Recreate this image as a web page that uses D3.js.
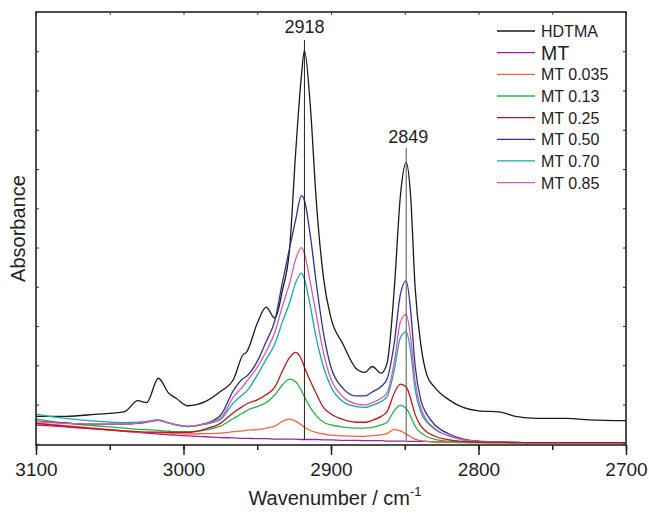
<!DOCTYPE html>
<html>
<head>
<meta charset="utf-8">
<script src="https://cdn.jsdelivr.net/npm/d3@7"></script>
<style>
  body { margin: 0; background: #fff; }
  svg { display: block; font-family: Arial, "Liberation Sans", sans-serif; }
</style>
</head>
<body>
<div id="chart"></div>
<script>
// wavenumber grid (cm-1) shared by every spectrum
const wavenumbers = [3100, 3080, 3060, 3040, 3031, 3025, 3017, 3010, 3005, 2997,
  2985, 2975, 2966, 2960, 2957, 2950, 2944, 2938, 2933, 2928,
  2924, 2920, 2918, 2914, 2910, 2905, 2900, 2892, 2883, 2877,
  2872, 2866, 2862, 2857, 2853, 2849, 2846, 2843, 2839, 2835,
  2830, 2820, 2810, 2800, 2785, 2775, 2760, 2740, 2725, 2700];

const hdtma = [0.70, 0.70, 0.75, 0.82, 1.10, 1.05, 1.67, 1.29, 1.16, 0.97,
  1.08, 1.33, 1.65, 2.25, 2.35, 3.07, 3.48, 3.20, 3.90, 5.00,
  7.40, 9.40, 10.02, 8.60, 6.20, 4.20, 3.20, 2.55, 1.92, 1.82,
  1.97, 1.80, 2.05, 4.00, 6.30, 7.16, 6.30, 4.00, 2.50, 1.75,
  1.45, 1.12, 0.92, 0.84, 0.81, 0.70, 0.65, 0.65, 0.61, 0.59];

const mt = [0.48, 0.43, 0.38, 0.32, 0.29, 0.27, 0.25, 0.23, 0.22, 0.20,
  0.18, 0.16, 0.15, 0.14, 0.14, 0.13, 0.13, 0.12, 0.12, 0.12,
  0.12, 0.11, 0.11, 0.11, 0.11, 0.10, 0.10, 0.09, 0.09, 0.08,
  0.08, 0.08, 0.07, 0.07, 0.07, 0.07, 0.06, 0.06, 0.06, 0.06,
  0.05, 0.05, 0.04, 0.04, 0.04, 0.03, 0.03, 0.03, 0.03, 0.03];

const mt035 = [0.53, 0.46, 0.40, 0.33, 0.30, 0.29, 0.28, 0.27, 0.26, 0.25,
  0.26, 0.27, 0.31, 0.33, 0.35, 0.36, 0.40, 0.45, 0.57, 0.63,
  0.58, 0.48, 0.42, 0.34, 0.29, 0.25, 0.22, 0.20, 0.19, 0.19,
  0.21, 0.23, 0.26, 0.37, 0.33, 0.25, 0.18, 0.12, 0.08, 0.06,
  0.05, 0.04, 0.03, 0.03, 0.03, 0.03, 0.03, 0.03, 0.03, 0.03];

const mt13 = [0.63, 0.53, 0.46, 0.40, 0.37, 0.36, 0.34, 0.32, 0.31, 0.31,
  0.35, 0.45, 0.65, 0.78, 0.85, 0.95, 1.05, 1.25, 1.50, 1.65,
  1.58, 1.35, 1.20, 0.92, 0.72, 0.55, 0.48, 0.43, 0.40, 0.40,
  0.42, 0.48, 0.55, 0.85, 0.98, 0.90, 0.70, 0.45, 0.28, 0.18,
  0.12, 0.06, 0.04, 0.03, 0.03, 0.03, 0.03, 0.03, 0.03, 0.03];

const mt25 = [0.52, 0.45, 0.38, 0.33, 0.31, 0.30, 0.30, 0.29, 0.29, 0.29,
  0.38, 0.52, 0.80, 0.95, 1.02, 1.12, 1.25, 1.45, 1.85, 2.20,
  2.33, 2.15, 1.95, 1.60, 1.28, 0.92, 0.76, 0.62, 0.55, 0.55,
  0.60, 0.70, 0.82, 1.30, 1.52, 1.45, 1.15, 0.75, 0.45, 0.30,
  0.20, 0.10, 0.06, 0.04, 0.03, 0.03, 0.03, 0.03, 0.03, 0.03];

const mt50 = [0.58, 0.53, 0.50, 0.50, 0.52, 0.55, 0.60, 0.53, 0.48, 0.44,
  0.52, 0.72, 1.37, 1.65, 1.73, 2.10, 2.60, 3.15, 4.10, 5.00,
  5.70, 6.32, 6.20, 5.30, 4.10, 2.80, 1.95, 1.42, 1.22, 1.22,
  1.32, 1.46, 1.65, 2.60, 3.80, 4.15, 3.40, 2.00, 1.10, 0.75,
  0.50, 0.25, 0.12, 0.07, 0.05, 0.04, 0.03, 0.03, 0.03, 0.03];

const mt70 = [0.75, 0.65, 0.58, 0.54, 0.55, 0.57, 0.61, 0.54, 0.49, 0.44,
  0.50, 0.62, 1.05, 1.25, 1.35, 1.75, 2.15, 2.55, 3.10, 3.60,
  4.10, 4.35, 4.20, 3.50, 2.70, 1.95, 1.45, 1.08, 0.95, 0.93,
  0.98, 1.08, 1.20, 1.90, 2.70, 2.85, 2.35, 1.40, 0.80, 0.55,
  0.38, 0.20, 0.10, 0.06, 0.04, 0.03, 0.03, 0.03, 0.03, 0.03];

const mt85 = [0.57, 0.52, 0.50, 0.50, 0.53, 0.56, 0.60, 0.53, 0.48, 0.45,
  0.52, 0.65, 1.20, 1.45, 1.60, 1.95, 2.35, 2.85, 3.50, 4.10,
  4.70, 5.00, 4.85, 4.10, 3.30, 2.30, 1.65, 1.20, 1.02, 0.99,
  1.05, 1.16, 1.30, 2.10, 3.10, 3.30, 2.70, 1.60, 0.90, 0.60,
  0.40, 0.20, 0.10, 0.06, 0.04, 0.03, 0.03, 0.03, 0.03, 0.03];

const seriesNames = ["HDTMA", "MT", "MT 0.035", "MT 0.13", "MT 0.25", "MT 0.50", "MT 0.70", "MT 0.85"];
const seriesValues = [hdtma, mt, mt035, mt13, mt25, mt50, mt70, mt85];
const seriesColors = ["#1a1a1a", "#a0219c", "#f4643a", "#25b34b", "#c1141d", "#2e3393", "#12aaa6", "#d85aae"];

const xTicks = [3100, 3000, 2900, 2800, 2700];
const peakLabels = [2918, 2849];

const width = 649;
const height = 513;
const m = { left: 36, right: 626, top: 12, bottom: 445 };

const svg = d3.select("#chart")
  .append("svg")
  .attr("width", width)
  .attr("height", height);

const x = d3.scaleLinear().domain([3100, 2700]).range([m.left, m.right]);
const y = d3.scaleLinear().domain([-0.03, 11]).range([m.bottom, m.top]);

const line = d3.line()
  .x((d, i) => x(wavenumbers[i]))
  .y(d => y(d))
  .curve(d3.curveMonotoneX);

// spectra
const drawOrder = [0, 1, 2, 3, 5, 6, 7, 4];
svg.append("g")
  .attr("fill", "none")
  .attr("stroke-width", 1.3)
  .selectAll("path")
  .data(drawOrder)
  .join("path")
  .attr("stroke", i => seriesColors[i])
  .attr("d", i => line(seriesValues[i]));

// peak marker lines
svg.append("line")
  .attr("x1", x(peakLabels[0])).attr("x2", x(peakLabels[0]))
  .attr("y1", 40).attr("y2", 440)
  .attr("stroke", "#222").attr("stroke-width", 1);
svg.append("line")
  .attr("x1", x(peakLabels[1])).attr("x2", x(peakLabels[1]))
  .attr("y1", 148).attr("y2", 440)
  .attr("stroke", "#555").attr("stroke-width", 1);

svg.append("text")
  .attr("x", x(peakLabels[0])).attr("y", 33)
  .attr("text-anchor", "middle")
  .attr("font-size", 18).attr("fill", "#222")
  .text(peakLabels[0]);
svg.append("text")
  .attr("x", x(peakLabels[1]) + 2).attr("y", 143)
  .attr("text-anchor", "middle")
  .attr("font-size", 18).attr("fill", "#222")
  .text(peakLabels[1]);

// axes
const minorX = d3.range(3100, 2699, -50);
svg.append("g")
  .attr("transform", `translate(0,${m.bottom})`)
  .call(d3.axisBottom(x).tickValues(minorX).tickSize(5).tickFormat(""))
  .call(g => g.select(".domain").remove())
  .call(g => g.selectAll("line").attr("stroke", "#222").attr("stroke-width", 1.5));

svg.append("g")
  .attr("transform", `translate(0,${m.bottom})`)
  .call(d3.axisBottom(x).tickValues(xTicks).tickSize(10).tickPadding(8).tickFormat(d3.format("d")))
  .call(g => g.select(".domain").remove())
  .call(g => g.selectAll("line").attr("stroke", "#222").attr("stroke-width", 1.5))
  .call(g => g.selectAll("text").attr("font-size", 19).attr("fill", "#222")
    .attr("font-family", "Arial, 'Liberation Sans', sans-serif"));

svg.append("g")
  .attr("transform", `translate(0,${m.top})`)
  .call(d3.axisBottom(x).tickValues(minorX).tickSize(3).tickFormat(""))
  .call(g => g.select(".domain").remove())
  .call(g => g.selectAll("line").attr("stroke", "#444"));

const yTicks = d3.range(0, 11);
svg.append("g")
  .attr("transform", `translate(${m.left},0)`)
  .call(d3.axisRight(y).tickValues(yTicks).tickSize(3).tickFormat(""))
  .call(g => g.select(".domain").remove())
  .call(g => g.selectAll("line").attr("stroke", "#333"));

svg.append("g")
  .attr("transform", `translate(${m.right},0)`)
  .call(d3.axisLeft(y).tickValues(yTicks).tickSize(3).tickFormat(""))
  .call(g => g.select(".domain").remove())
  .call(g => g.selectAll("line").attr("stroke", "#333"));

// frame
svg.append("rect")
  .attr("x", m.left).attr("y", m.top)
  .attr("width", m.right - m.left).attr("height", m.bottom - m.top)
  .attr("fill", "none").attr("stroke", "#222").attr("stroke-width", 1.6);

// axis titles
const xTitle = svg.append("text")
  .attr("x", (m.left + m.right) / 2 + 4).attr("y", 505)
  .attr("text-anchor", "middle")
  .attr("font-size", 20).attr("fill", "#222");
xTitle.append("tspan").text("Wavenumber / cm");
xTitle.append("tspan").attr("font-size", 13).attr("dy", -9).text("-1");

svg.append("text")
  .attr("transform", `translate(25,${(m.top + m.bottom) / 2}) rotate(-90)`)
  .attr("text-anchor", "middle")
  .attr("font-size", 20).attr("fill", "#222")
  .text("Absorbance");

// legend
const legend = svg.append("g").attr("transform", "translate(497,37)");
const rows = legend.selectAll("g")
  .data(seriesNames)
  .join("g")
  .attr("transform", (d, i) => `translate(0,${i * 21.66})`);
rows.append("line")
  .attr("x1", 0).attr("x2", 38)
  .attr("y1", -6).attr("y2", -6)
  .attr("stroke", (d, i) => seriesColors[i])
  .attr("stroke-width", 1.3);
rows.append("text")
  .attr("x", 44).attr("y", (d, i) => i === 1 ? 1 : 0)
  .attr("font-size", (d, i) => i === 1 ? 19.5 : 16)
  .attr("fill", "#222")
  .text(d => d);
</script>
</body>
</html>
